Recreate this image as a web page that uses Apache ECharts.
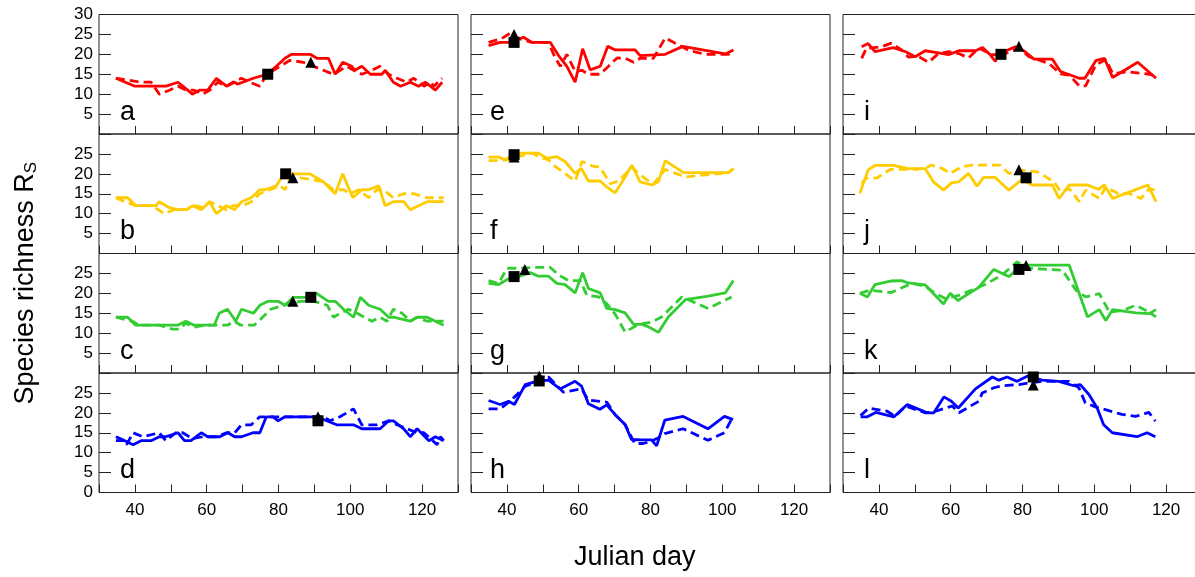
<!DOCTYPE html>
<html>
<head>
<meta charset="utf-8">
<script src="https://cdn.jsdelivr.net/npm/echarts@6/dist/echarts.min.js"></script>
<style>
html,body{margin:0;padding:0;background:#fff;}
#chart{width:1195px;height:577px;}
</style>
</head>
<body>
<div id="chart"></div>
<script>
// ---------- data: [Julian day, species richness] ----------
const xTickLabels = [40, 60, 80, 100, 120];
const panelLetters = ['a','b','c','d','e','f','g','h','i','j','k','l'];

// Column 1 (a-d)
const aSolid = [[34.7,14],[40,12],[48.7,12],[52,13],[54.7,11],[56,10],[58,11],[60.3,11],[62.7,14],[65.5,12],[67.8,13],[68.5,12.5],[70,13],[73,14],[76.8,15],[79.4,17],[81.8,19],[83.6,20],[88.8,20],[90.7,19],[93.9,19],[95.8,15],[97.9,18],[100.4,17],[101.3,16],[103.2,17],[105.6,15],[108.8,15],[109.7,16],[112,13],[114,12],[116.7,13],[119,12],[120.9,13],[123.7,11],[125.6,13]];
const aDashed = [[34.7,14],[41.7,13],[44.5,13],[46.8,10],[49.6,11],[52,12],[54.3,11],[56.5,11],[58.9,10],[60.8,11],[63.1,13],[65.5,12],[67.3,13],[69.7,14],[72,13],[74.8,12],[76.8,15],[80.4,17],[83.2,18.5],[86.9,18],[89.7,17],[92.5,16],[95.3,15],[97.2,16],[99,17],[100.9,16],[103.2,15],[106,16],[108.3,17],[110.7,15],[113,14],[115.8,13],[117.7,14],[120.5,12],[122.3,13],[123.3,12],[125.6,14]];
const aSquare = [[77,15]];
const aTriangle = [[89,18]];

const bSolid = [[34.7,14],[38,14],[40.3,12],[45.9,12],[46.8,13],[49.6,11.5],[52,11],[54.3,11],[56.1,12],[58.5,11],[60.8,13],[62.7,10],[65.5,12],[67.8,11],[69.7,13],[72.4,14],[74.8,16],[76.2,16],[79.4,17],[80.8,19],[83.2,20],[88.8,20],[92.5,18],[95.8,15],[97.9,20],[100.7,14],[103.2,16],[105.1,16],[107.9,17],[109.7,12],[112,13],[114.9,13],[116.7,11],[119,12],[121.4,13],[126,13]];
const bDashed = [[34.7,14],[37.2,13],[40.3,12],[44.9,12],[48.1,10],[51,11],[54.3,11],[57,12],[58.9,11.5],[60.8,13],[63.1,12],[65.5,11],[67.3,12],[70.1,12],[72.4,13],[74.8,15],[77.6,16],[80.4,17],[81.8,16],[83.2,19],[86,19],[89.7,18.5],[92.5,18],[95.3,16],[98.1,16],[99.9,15],[102.4,16],[105.1,14],[107.4,16],[109.2,16],[112,14],[114.9,15],[117.7,15],[121.4,14],[126,14]];
const bSquare = [[82,20]];
const bTriangle = [[84,19]];

const cSolid = [[34.7,14],[38,14],[40.2,12],[51.9,12],[54.2,13],[56.5,12],[62.1,12],[63.5,15],[65.8,16],[68.1,13],[69.7,16],[73,15],[74.8,17],[77.1,18],[79.9,18],[81.8,17],[84.1,19],[87.8,19],[90.6,20],[93.9,18],[95.8,18],[98.1,16],[100.9,14],[102.8,19],[105.1,17],[108.3,16],[110.7,14],[112,14],[116.7,13],[118.6,14],[121.4,14],[126,12]];
const cDashed = [[34.7,14],[39.3,13],[41.2,12],[46.8,12],[50.5,11],[52.4,11],[54.2,12.5],[56.5,11.5],[59.4,12],[62.1,12],[65.8,12],[67.6,13],[69.5,12],[73.2,12],[75,13.5],[77.8,16],[81.5,17],[83.4,17.5],[86.2,18],[89.9,18],[93.6,17],[95.3,14],[97.2,15],[99.5,16],[101.9,15],[106,13],[108.3,14],[110.2,13],[112,16],[114.4,15],[116.7,13],[118.6,14],[121.4,13],[126,13]];
const cSquare = [[89,19]];
const cTriangle = [[84,18]];

const dSolid = [[34.7,13],[37.2,13],[39.5,12],[41.7,13],[44.5,13],[46.8,14],[48.6,14],[52,15],[53.8,13],[55.6,13],[58.5,15],[60.3,14],[63.6,14],[65.9,15],[67.8,14],[69.7,14],[72.9,15],[74.8,15],[76.6,19],[78.5,19],[79.9,18],[81.8,19],[90.6,19],[93.4,18],[96.2,17],[100.9,17],[103.2,16],[108.3,16],[110.7,18],[112,18],[114.9,16],[116.7,14],[118.6,16],[121.9,13],[123.7,14],[126,13]];
const dDashed = [[34.7,14],[37.2,13],[37.7,12],[39.5,15],[42.2,14],[46.8,15],[48.6,13],[51.4,15],[53.3,15],[56.1,13.5],[58.9,14],[62.6,14],[65.5,15],[67.8,15],[69.7,17],[72.4,17],[74.8,19],[78.5,19],[84.1,19],[92.5,19],[94.3,18],[97.1,19],[100.9,21],[103.2,17],[107.4,17],[110.7,18],[113,17],[115.8,16],[118.6,15],[120.5,15],[124.2,12],[125.1,14],[126,13]];
const dSquare = [[91,18]];
const dTriangle = [[91,19]];

// Column 2 (e-h)
const eSolid = [[34.9,22.2],[38.1,23],[40.5,23],[44.6,24.3],[47,23],[52.1,23],[54.4,19.7],[56.7,17],[59,13],[61.1,21.4],[63.2,16.1],[66,17],[68.1,22],[70.2,21.1],[75.7,21.1],[77.1,19.7],[84.1,20],[89,22],[100.8,20.1],[103.1,21.1]];
const eDashed = [[34.9,23],[38.6,24],[40.9,25.3],[43.2,24],[47,23],[51.6,23],[53.5,19],[54.9,17],[56.7,20],[59,15.7],[60.9,16],[62.7,15],[66,15],[68.3,17],[70.7,19.1],[73,19],[75.3,18],[77.1,19],[80.8,19],[84.1,24.1],[87.3,22.6],[90.6,21],[95.2,20],[98.9,20],[101.7,20],[103.1,21]];
const eSquare = [[42,23]];
const eTriangle = [[42,25]];

const fSolid = [[34.9,24.2],[37.7,24.2],[39.5,23.5],[42.3,25.2],[48.8,25.2],[51.1,23.9],[53.9,24.3],[56.2,23.1],[59,20.1],[60.7,21.4],[62.7,18.2],[66,18.2],[67.8,16.7],[70.1,15.2],[72.4,18.4],[74.8,22.2],[77.1,18],[80.4,17.2],[82.2,18],[84.1,23.3],[89.2,20.3],[94.3,20.3],[101.7,20.3],[103.1,21.3]];
const fDashed = [[34.9,23.3],[37.7,23.3],[40.5,23.6],[43.2,24.3],[47,25.2],[48.8,24.3],[51.6,23.5],[53.5,21.8],[56.2,20.1],[59,18.2],[60.9,23.1],[63.7,22],[66,21.6],[68.8,17.5],[71.1,18.2],[74.8,21.6],[77.6,19.4],[80.8,17.4],[84.1,21.1],[89.7,19.2],[96.1,19.8],[101.7,20.3],[103.1,21.3]];
const fSquare = [[42,24.8]];
const fTriangle = [[42,24.2]];

const gSolid = [[34.9,22.5],[37.7,22.2],[40.5,23.7],[43.2,24.2],[46.5,25.2],[48.8,24.3],[51.6,24.3],[53.9,22.5],[56.2,22.2],[59,20.1],[61.1,25.2],[62.7,21.2],[66,20.1],[67.8,16.2],[70.2,15.9],[72.9,15.1],[75.3,12.2],[77.6,12.2],[79.4,11.6],[82.2,10.2],[85,14.1],[89.7,18.4],[96.1,19.3],[100.8,20.1],[103.1,23.2]];
const gDashed = [[34.9,23.2],[37.7,22.5],[40,26.3],[43.2,26.3],[47,26.5],[52.1,26.5],[54.4,24.6],[57.2,23.2],[60.4,23.2],[62.3,19.5],[65.5,19.1],[67.8,17.4],[70.2,14.7],[72.9,10.3],[76.7,12.2],[80.4,12.8],[83.2,14.1],[88.7,19.1],[96.1,16.2],[102.6,19.1]];
const gSquare = [[42,24.2]];
const gTriangle = [[45,26]];

const hSolid = [[34.9,23.1],[38.1,22.1],[40.5,22.9],[42.1,22.1],[45.1,27.1],[48.3,27.9],[51.6,28.2],[54.8,26],[59,27.9],[60.8,26.7],[62.7,22.3],[65.9,20.9],[67.8,22],[70.1,19.6],[72.9,17.1],[74.7,13.3],[77.5,13.2],[80.3,13.2],[81.7,11.7],[84,18.2],[89.1,19.1],[96,16],[100.6,19.1],[103,18.3]];
const hDashed = [[34.9,21],[38.1,21],[41.4,23.3],[45.1,26.7],[48.3,27.7],[51.6,29],[55.7,25.2],[60.8,26],[62.7,23.2],[67.8,22.7],[70.1,19.6],[72.9,17.1],[75.6,12.3],[77.9,12.3],[80.3,12.9],[82.1,13.7],[84,14.8],[89.1,16],[96,13.1],[100.6,15],[103,19.1]];
const hSquare = [[49,28]];
const hTriangle = [[49,29.2]];

// Column 3 (i-l)
const iSolid = [[35.2,21.9],[37,22.7],[38.9,20.7],[44,21.7],[47.3,20.7],[50.1,19.4],[52.9,20.9],[55.7,20.5],[59.4,19.9],[62.2,20.9],[66.9,20.9],[68.9,21.7],[71,19.9],[72.9,19.9],[78,21.9],[80.4,20.9],[83.2,18.8],[88.3,18.8],[90.6,15.7],[95.8,14],[97.4,14],[100.4,18.4],[102.8,19],[105.1,14.2],[112.1,18],[117.2,14]];
const iDashed = [[35.2,19],[36.5,21.5],[40.7,21.9],[43.5,22.8],[46.3,21.1],[48.2,19.3],[51,19.5],[53.8,18],[56.6,20.2],[59.4,20.7],[62.2,20.2],[65,19.1],[67.8,21.6],[70.6,20.3],[72.4,18.3],[75.2,20.2],[79,21.5],[81.8,19.4],[87.4,17.7],[90.6,15.1],[93,14.8],[95.8,12.1],[97.6,12.1],[100.4,17.3],[103.2,18.7],[105.1,15.2],[109.7,15.6],[115.3,15],[117.2,14.5]];
const iSquare = [[74,20]];
const iTriangle = [[79,22]];

const jSolid = [[34.7,15.1],[37,21],[38.9,22.1],[44,22.1],[48.2,21.3],[52.9,21.3],[55.2,18],[58,15.9],[60.3,17.8],[62.2,18],[65,20.1],[67.3,16.9],[69.2,19.1],[72.4,19.1],[76.2,15.9],[79.9,18.6],[82.7,17.2],[88.3,17.2],[90.2,13.8],[93,17.2],[98.1,17.2],[101.2,16.1],[102.8,17.2],[105.1,13.8],[108.8,15.1],[114.9,17.2],[117.2,13]];
const jDashed = [[35.2,17.6],[36.5,18.9],[39.3,18.9],[43.1,21.1],[50.1,21.1],[52.9,21.4],[54.7,22.2],[57.5,21.4],[59.9,20.1],[63.1,21.8],[65.9,22.2],[73.8,22.2],[76.2,20.1],[79.9,20.9],[84.1,20.5],[86.4,19.3],[88.8,18],[90.6,15.5],[93,16.3],[95.8,13],[97.6,15.9],[101.4,13.8],[103.2,16.7],[106.5,15.1],[109.7,15.1],[113,13.8],[115.3,16.3],[117.2,15.9]];
const jSquare = [[81,19]];
const jTriangle = [[79,21]];

const kSolid = [[34.7,20],[36.8,19.1],[38.9,22.2],[43.5,23.1],[46.3,23.2],[48.2,22.6],[52.9,22.1],[58,17.3],[59.9,20],[62,18.2],[67.8,21.5],[72,26],[76.2,24.2],[79.9,27.1],[93,27.1],[98.1,14.1],[101.4,15.9],[103.2,13.2],[105.1,15.9],[111.6,15.1],[115.3,14.9],[117.2,15.9]];
const kDashed = [[34.7,20],[37.5,20.8],[43.5,20.2],[49.1,22.5],[52.9,21.8],[55.7,20],[58.5,18.7],[62.2,19.5],[65.9,20.8],[69.7,22.3],[74.3,24.6],[78.5,27.9],[81.8,26.3],[87.4,26],[91.1,25.8],[94.9,20.8],[97.6,19.1],[101.4,19.9],[104.2,15.3],[107.9,15.7],[111.6,17],[114.4,15.7],[117.2,14.1]];
const kSquare = [[79,26]];
const kTriangle = [[81,27]];

const lSolid = [[34.9,19],[36.8,19],[39.1,20.1],[44.2,19],[47.9,22.1],[53.5,20],[55.3,20],[58.1,24],[60.2,22.9],[62.1,21.2],[66.9,26],[71.6,29],[73.4,28.2],[75.7,29],[78.5,27.9],[81.3,29.2],[85.5,28.2],[90.1,27.9],[94.3,26.8],[96.1,27.1],[98.5,24.6],[100.8,21.2],[102.6,17],[105,15],[111.9,14],[114.7,15],[117,14]];
const lDashed = [[34.9,19.3],[37.2,21.2],[42.3,20.4],[44.6,19.1],[47.4,21.7],[53,20],[55.8,20.4],[60.4,21.7],[62.3,20],[67.8,22.9],[68.8,25],[72,26.3],[74.3,26.8],[79,27.1],[81.8,27.5],[85.5,27.9],[92.9,27.9],[95.7,26.3],[97.5,22.5],[100.3,21.5],[103.1,20.8],[107.7,19.6],[111.5,19.1],[115.2,20.1],[117,17.9]];
const lSquare = [[83,29]];
const lTriangle = [[83,27]];

// ---------- build ----------
const RED = '#ff0000', YEL = '#ffcc00', GRN = '#33cc33', BLU = '#0000ff';
const rowColors = [RED, YEL, GRN, BLU];
const panels = [
  [aSolid,aDashed,aSquare,aTriangle],[bSolid,bDashed,bSquare,bTriangle],
  [cSolid,cDashed,cSquare,cTriangle],[dSolid,dDashed,dSquare,dTriangle],
  [eSolid,eDashed,eSquare,eTriangle],[fSolid,fDashed,fSquare,fTriangle],
  [gSolid,gDashed,gSquare,gTriangle],[hSolid,hDashed,hSquare,hTriangle],
  [iSolid,iDashed,iSquare,iTriangle],[jSolid,jDashed,jSquare,jTriangle],
  [kSolid,kDashed,kSquare,kTriangle],[lSolid,lDashed,lSquare,lTriangle]
];

const FONT = '"Liberation Sans", Arial, Helvetica, sans-serif';
const colLeft = [99, 471, 843];
const rowTop = [14.5, 134, 253.5, 373];
const W = 359, H = 119.5;

const grids = [], xAxes = [], yAxes = [], series = [], graphics = [];
panels.forEach((p, i) => {
  const col = Math.floor(i / 4), row = i % 4;
  grids.push({left: colLeft[col], top: rowTop[row], width: W, height: H,
    outerBoundsMode: 'none', containLabel: false,
    show: true, borderColor: '#222', borderWidth: 1, backgroundColor: 'transparent'});
  xAxes.push({type: 'value', gridIndex: i, min: 30, max: 130, interval: 10,
    axisLine: {show: false}, splitLine: {show: false},
    axisTick: {show: true, inside: true, length: 8, lineStyle: {color: '#222', width: 1}},
    axisLabel: {show: row === 3, margin: 9, fontSize: 17, color: '#000', fontFamily: FONT,
      formatter: v => xTickLabels.indexOf(v) >= 0 ? String(v) : ''}});
  yAxes.push({type: 'value', gridIndex: i, min: 0, max: 30, interval: 5,
    axisLine: {show: false}, splitLine: {show: false},
    axisTick: {show: true, inside: true, length: 12, lineStyle: {color: '#222', width: 1}},
    axisLabel: {show: col === 0, margin: 6, fontSize: 17, color: '#000', fontFamily: FONT,
      formatter: v => {
        if (v === 30) return row === 0 ? '30' : '';
        if (v === 0) return row === 3 ? '0' : '';
        return String(v);
      }}});
  const c = rowColors[row];
  series.push({type: 'line', xAxisIndex: i, yAxisIndex: i, data: p[0], symbol: 'none',
    lineStyle: {color: c, width: 2.8}, z: 3, animation: false, clip: false});
  series.push({type: 'line', xAxisIndex: i, yAxisIndex: i, data: p[1], symbol: 'none',
    lineStyle: {color: c, width: 2.8, type: [9, 5]}, z: 3, animation: false, clip: false});
  series.push({type: 'scatter', xAxisIndex: i, yAxisIndex: i, data: p[3], symbol: 'triangle',
    symbolSize: 11, itemStyle: {color: '#000', opacity: 1}, z: 5, animation: false});
  series.push({type: 'scatter', xAxisIndex: i, yAxisIndex: i, data: p[2], symbol: 'rect',
    symbolSize: 11, itemStyle: {color: '#000', opacity: 1}, z: 6, animation: false});
  graphics.push({type: 'text', left: colLeft[col] + (col === 1 ? 19 : 21), top: rowTop[row] + H - 35,
    style: {text: panelLetters[i], font: '27px ' + FONT, fill: '#000'}, z: 10});
});

graphics.push({type: 'text', left: 574, top: 544,
  style: {text: 'Julian day', font: '27px ' + FONT, fill: '#000'}});
graphics.push({type: 'text', left: 12, top: 162, rotation: Math.PI / 2, originX: 0, originY: 0,
  style: {text: '{m|Species richness R}{s|S}', fill: '#000',
    rich: {m: {fontSize: 27, fontFamily: FONT, color: '#000'},
           s: {fontSize: 17, fontFamily: FONT, color: '#000', verticalAlign: 'bottom', padding: [12, 0, 0, 0]}}}});

const chart = echarts.init(document.getElementById('chart'), null, {renderer: 'canvas'});
chart.setOption({
  animation: false,
  backgroundColor: '#fff',
  grid: grids, xAxis: xAxes, yAxis: yAxes, series: series, graphic: graphics
});
</script>
</body>
</html>
